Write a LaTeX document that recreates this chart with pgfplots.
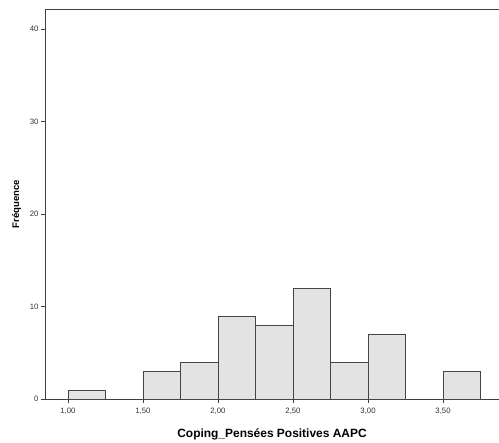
\documentclass[border=0pt]{standalone}
\usepackage{pgfplots}
\pgfplotsset{compat=1.18}
\usepackage{fontspec}
\setmainfont{Liberation Sans}
\definecolor{barfill}{HTML}{E3E3E3}
\definecolor{baredge}{HTML}{454545}
\definecolor{axcol}{HTML}{404040}
\begin{document}
\begin{tikzpicture}
\begin{axis}[
  scale only axis,
  width=454bp, height=390bp,
  xmin=0.847, xmax=3.873,
  ymin=0, ymax=42.16,
  axis lines*=left,
  axis line style={axcol, line width=1pt, -},
  xtick={1,1.5,2,2.5,3,3.5},
  ytick={0,10,20,30,40},
  xticklabels={{1,00},{1,50},{2,00},{2,50},{3,00},{3,50}},
  xticklabel style={font=\fontsize{7.8}{9}\selectfont, text=black!80, yshift=-1.5bp},
  yticklabel style={font=\fontsize{7.8}{9}\selectfont, text=black!80, xshift=1bp},
  tick align=outside,
  major tick length=4bp,
  tick style={axcol, line width=0.9pt},
  /pgf/number format/assume math mode=true,
  xlabel={\textbf{Coping\_Pensées Positives AAPC}},
  ylabel={\textbf{Fréquence}},
  xlabel style={font=\fontsize{12}{13}\selectfont, yshift=-7bp},
  ylabel style={font=\fontsize{9.6}{11}\selectfont, yshift=2bp},
  clip=false,
]
\addplot[ybar, bar width=0.25, bar shift=0, fill=barfill, draw=baredge, line width=0.9pt]
  coordinates {(1.125,1) (1.625,3) (1.875,4) (2.125,9) (2.375,8) (2.625,12) (2.875,4) (3.125,7) (3.625,3)};
\draw[axcol, line width=1pt] (rel axis cs:0,1) -- (rel axis cs:1,1);
\end{axis}
\pgfresetboundingbox
\path[use as bounding box] ([xshift=-45bp,yshift=-43.7bp]current axis.south west) rectangle ([yshift=9.3bp]current axis.north east);
\end{tikzpicture}
\end{document}
